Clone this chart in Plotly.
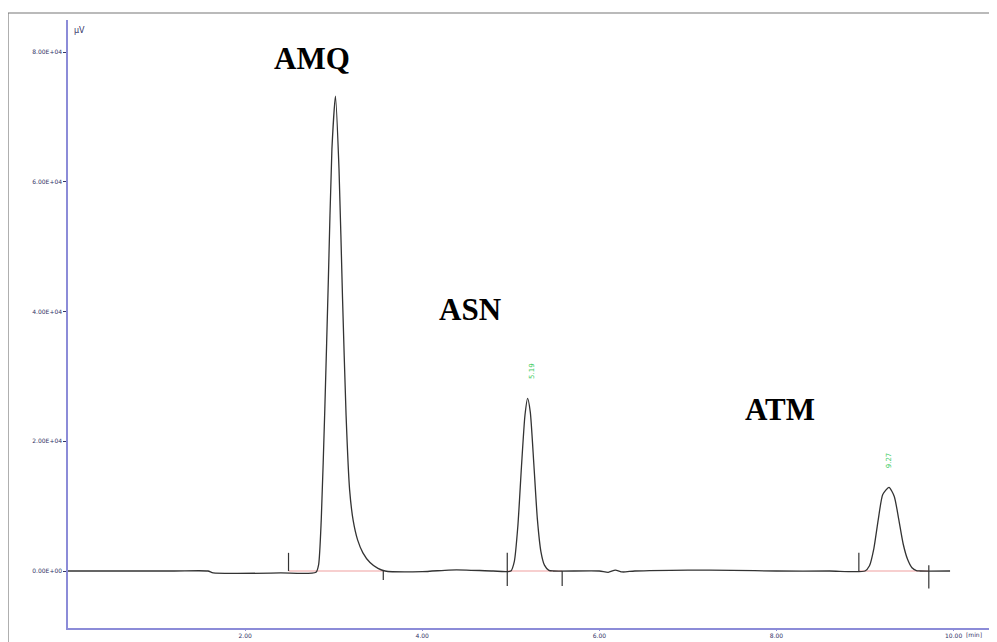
import plotly.graph_objects as go

# Chromatogram trace (time in min, signal in µV)
time_min = [0.00, 1.20, 1.58, 1.64, 2.40, 2.80, 2.83, 2.86, 2.90, 2.94, 2.98, 3.02,
            3.06, 3.10, 3.14, 3.18, 3.22, 3.27, 3.33, 3.41, 3.50, 3.58, 4.00, 4.30,
            4.50, 4.80, 5.00, 5.04, 5.08, 5.12, 5.16, 5.19, 5.22, 5.26, 5.30, 5.34,
            5.38, 5.43, 5.48, 6.00, 6.10, 6.18, 6.26, 6.40, 7.00, 7.50, 8.00, 8.60,
            9.00, 9.05, 9.10, 9.15, 9.20, 9.27, 9.33, 9.38, 9.43, 9.48, 9.53, 9.58,
            9.62, 9.96]
signal_uv = [0, 0, 0, -300, -300, -200, 1000, 8000, 25000, 45000, 65000, 73200,
             62000, 42000, 24000, 12500, 7800, 4800, 2800, 1300, 400, 0, -100, 150,
             150, 0, 0, 1500, 7000, 16000, 24000, 26600, 24500, 16500, 8000, 3000,
             900, 100, 0, 0, -200, 150, -150, 0, 150, 100, 0, 0,
             0, 800, 3500, 8000, 11800, 12900, 11500, 8000, 4200, 1800, 500, 50,
             0, 0]

# Integration baselines (start, end in min)
base_start = [2.49, 4.96, 8.93]
base_end = [3.56, 5.58, 9.72]

# Peak start/end event markers
event_times = [2.49, 3.56, 4.96, 5.58, 8.93, 9.72]
event_top = [2800, 0, 2800, 0, 2800, 900]
event_bottom = [0, -1400, -2300, -2300, 0, -2700]

# Peak names and their label positions
peak_names = ["AMQ", "ASN", "ATM"]
peak_label_t = [2.75, 4.54, 8.04]
peak_label_y = [79000, 40300, 24900]

# Small green peak tags
tag_text = ["5.19", "9.27"]
tag_t = [5.24, 9.28]
tag_y = [29300, 15500]

y_tickvals = [0, 20000, 40000, 60000, 80000]
y_ticktext = ["0.00E+00", "2.00E+04", "4.00E+04", "6.00E+04", "8.00E+04"]
x_tickvals = [2, 4, 6, 8, 10]
x_ticktext = ["2.00", "4.00", "6.00", "8.00", "10.00"]

fig = go.Figure()

# integration baselines
bx, by = [], []
for s, e in zip(base_start, base_end):
    bx += [s, e, None]
    by += [0, 0, None]
fig.add_trace(go.Scatter(x=bx, y=by, mode="lines",
                         line=dict(color="#f0a0a0", width=1.2), hoverinfo="skip"))

# chromatogram
fig.add_trace(go.Scatter(x=time_min, y=signal_uv, mode="lines",
                         line=dict(color="#333333", width=1.3, shape="spline", smoothing=0.6)))

# event markers
ex, ey = [], []
for t, top, bot in zip(event_times, event_top, event_bottom):
    ex += [t, t, None]
    ey += [bot, top, None]
fig.add_trace(go.Scatter(x=ex, y=ey, mode="lines",
                         line=dict(color="#333333", width=1.2), hoverinfo="skip"))

annotations = []
for name, t, y in zip(peak_names, peak_label_t, peak_label_y):
    annotations.append(dict(x=t, y=y, xref="x", yref="y", text="<b>%s</b>" % name,
                            showarrow=False,
                            font=dict(family="Liberation Serif", size=31, color="black")))
for txt, t, y in zip(tag_text, tag_t, tag_y):
    annotations.append(dict(x=t, y=y, xref="x", yref="y", text=txt, showarrow=False,
                            textangle=-90, yanchor="bottom",
                            font=dict(family="DejaVu Sans", size=7, color="#44cc66")))
annotations.append(dict(x=0.004, y=0.993, xref="paper", yref="paper", text="µV",
                        showarrow=False, xanchor="left",
                        font=dict(family="DejaVu Sans", size=8, color="#333366")))
annotations.append(dict(x=0.986, y=-0.002, xref="paper", yref="paper", text="[min]",
                        showarrow=False, xanchor="right", yanchor="top",
                        font=dict(family="DejaVu Sans", size=6, color="#333366")))

shapes = [
    dict(type="line", xref="paper", yref="paper", x0=-0.0646, x1=-0.0646, y0=1.0115, y1=-0.03,
         line=dict(color="#777777", width=1.2)),
    dict(type="line", xref="paper", yref="paper", x0=-0.0646, x1=1.0, y0=1.0115, y1=1.0115,
         line=dict(color="#777777", width=1.2)),
]

fig.update_layout(
    width=989, height=634,
    margin=dict(l=60, r=0, t=12, b=14, pad=0),
    paper_bgcolor="white", plot_bgcolor="white",
    showlegend=False,
    annotations=annotations,
    shapes=shapes,
    xaxis=dict(range=[0, 10.49], tickvals=x_tickvals, ticktext=x_ticktext,
               showgrid=False, zeroline=False, showline=True, linecolor="#8c8cd8",
               linewidth=1.5, ticks="outside", ticklen=1, tickcolor="#8c8cd8",
               tickfont=dict(family="DejaVu Sans", size=6, color="#333366")),
    yaxis=dict(range=[-8786, 84933], tickvals=y_tickvals, ticktext=y_ticktext,
               showgrid=False, zeroline=False, showline=True, linecolor="#8c8cd8",
               linewidth=1.5, ticks="outside", ticklen=3, tickcolor="#333366",
               tickfont=dict(family="DejaVu Sans", size=6, color="#333366")),
)

fig.write_html("out.html",
               post_script="document.body.style.overflow='hidden';"
                           "document.documentElement.style.overflow='hidden';")
